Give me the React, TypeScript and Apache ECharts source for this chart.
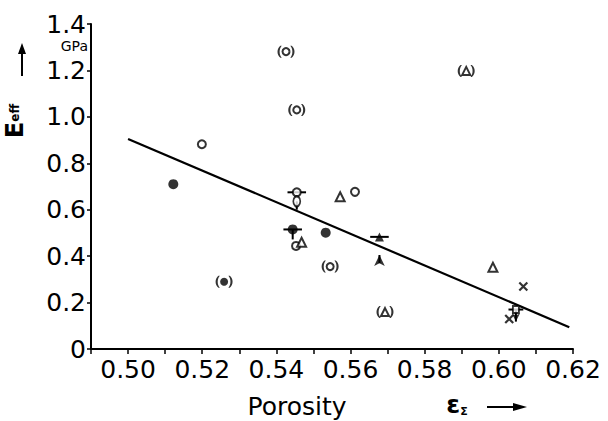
import React, { useEffect, useRef } from "react";
import * as echarts from "echarts";

// ---- data ----
const xMin = 0.49;
const xMax = 0.62;
const yMin = 0;
const yMax = 1.4;
const xLabelStep = 0.02;
const xTickStep = 0.01;
const yTickStep = 0.2;

const openCircles = [
  [0.5199, 0.882],
  [0.5612, 0.677],
  [0.5455, 0.675],
  [0.5453, 0.444],
];
const openOvals = [[0.5455, 0.636]];
const parenOpenCircles = [
  [0.5426, 1.281],
  [0.5455, 1.03],
  [0.5545, 0.355],
];
const filledCircles = [
  [0.5122, 0.71],
  [0.5444, 0.515],
  [0.5533, 0.501],
];
const parenFilledCircles = [[0.5259, 0.29]];
const openTriangles = [
  [0.5468, 0.46],
  [0.5572, 0.656],
  [0.5984, 0.352],
];
const parenOpenTriangles = [
  [0.5912, 1.198],
  [0.5693, 0.159],
];
const filledTriangles = [[0.5678, 0.483]];
const upArrows = [[0.5678, 0.405]];
const crosses = [
  [0.6066, 0.269],
  [0.6028, 0.129],
];
const openSquares = [[0.6046, 0.17]];
const downArrows = [[0.6046, 0.118]];
// horizontal bars: [x, y, halfWidth]
const horizontalBars = [
  [0.5455, 0.675, 0.0025],
  [0.5444, 0.515, 0.0025],
  [0.5678, 0.483, 0.0025],
  [0.6046, 0.17, 0.002],
];
// vertical stems: [x, yTop, yBottom]
const verticalStems = [
  [0.5455, 0.636, 0.6],
  [0.5444, 0.515, 0.472],
  [0.5678, 0.405, 0.37],
  [0.6046, 0.17, 0.118],
];
const fitLine = [
  [0.5, 0.905],
  [0.619, 0.094],
];

const FONT = "DejaVu Sans";

export default function App() {
  const ref = useRef<HTMLDivElement>(null);
  useEffect(() => {
    const chart = echarts.init(ref.current!, null, { renderer: "svg" });

    const segments: number[][] = [];
    horizontalBars.forEach(([x, y, h]) => segments.push([x - h, y, x + h, y]));
    verticalStems.forEach(([x, y0, y1]) => segments.push([x, y0, x, y1]));

    const parenPath =
      "path://M4,0 C0,3 0,9 4,12 L5.5,12 C2.5,9 2.5,3 5.5,0 Z M16,0 C20,3 20,9 16,12 L14.5,12 C17.5,9 17.5,3 14.5,0 Z";
    const open = { color: "#fff", borderColor: "#000", borderWidth: 2 };
    const filled = { color: "#000", borderColor: "#000", borderWidth: 0 };

    const scatter = (data: number[][], symbol: string, size: any, style: any, extra: any = {}) => ({
      type: "scatter",
      data,
      symbol,
      symbolSize: size,
      itemStyle: style,
      z: 5,
      silent: true,
      ...extra,
    });

    const option: any = {
      animation: false,
      backgroundColor: "#fff",
      grid: { left: 91, right: 35, top: 24, bottom: 72 },
      xAxis: {
        type: "value",
        min: xMin,
        max: xMax,
        interval: xTickStep,
        axisLine: { show: true, lineStyle: { color: "#000", width: 2 } },
        axisTick: { show: true, length: 5, lineStyle: { color: "#000", width: 1.5 } },
        splitLine: { show: false },
        axisLabel: {
          color: "#000",
          fontFamily: FONT,
          fontSize: 25,
          margin: 8,
          showMinLabel: true,
          showMaxLabel: true,
          formatter: (v: number) => {
            const k = Math.round((v - 0.5) / xTickStep);
            if (v < 0.4999 || k % Math.round(xLabelStep / xTickStep) !== 0) return "";
            return v.toFixed(2);
          },
        },
      },
      yAxis: {
        type: "value",
        min: yMin,
        max: yMax,
        interval: yTickStep,
        axisLine: { show: true, lineStyle: { color: "#000", width: 2 } },
        axisTick: { show: true, length: 4, lineStyle: { color: "#000", width: 1.5 } },
        splitLine: { show: false },
        axisLabel: {
          color: "#000",
          fontFamily: FONT,
          fontSize: 25,
          margin: 5,
          formatter: (v: number) => (v === 0 ? "0" : v.toFixed(1)),
        },
      },
      graphic: [
        {
          type: "text",
          x: 88,
          y: 46,
          style: {
            text: "GPa",
            fontFamily: FONT,
            fontSize: 14,
            fill: "#000",
            align: "right",
            verticalAlign: "middle",
          },
        },
        {
          type: "text",
          x: 27,
          y: 121,
          rotation: Math.PI / 2,
          style: {
            text: "{e|E}{s|eff}",
            align: "center",
            verticalAlign: "bottom",
            rich: {
              e: { fontFamily: FONT, fontSize: 24, fontWeight: "bold", fill: "#000" },
              s: { fontFamily: FONT, fontSize: 12, fontWeight: "bold", fill: "#000" },
            },
          },
        },
        {
          type: "line",
          shape: { x1: 22, y1: 76, x2: 22, y2: 50 },
          style: { stroke: "#000", lineWidth: 2 },
        },
        {
          type: "polygon",
          shape: { points: [[22, 43], [18, 54], [26, 54]] },
          style: { fill: "#000" },
        },
        {
          type: "text",
          x: 297,
          y: 406,
          style: {
            text: "Porosity",
            fontFamily: FONT,
            fontSize: 25,
            fill: "#000",
            align: "center",
            verticalAlign: "middle",
          },
        },
        {
          type: "text",
          x: 457,
          y: 404,
          style: {
            text: "{e|ε}{s|Σ}",
            align: "center",
            verticalAlign: "middle",
            rich: {
              e: { fontFamily: FONT, fontSize: 25, fontWeight: "bold", fill: "#000" },
              s: { fontFamily: FONT, fontSize: 11, fontWeight: "bold", fill: "#000", verticalAlign: "bottom", padding: [12, 0, 0, 0] },
            },
          },
        },
        {
          type: "line",
          shape: { x1: 487, y1: 407, x2: 515, y2: 407 },
          style: { stroke: "#000", lineWidth: 2 },
        },
        {
          type: "polygon",
          shape: { points: [[527, 407], [513, 403], [513, 411]] },
          style: { fill: "#000" },
        },
      ],
      series: [
        {
          type: "line",
          data: fitLine,
          symbol: "none",
          lineStyle: { color: "#000", width: 2.2 },
          z: 2,
          silent: true,
        },
        {
          type: "custom",
          data: segments,
          z: 3,
          silent: true,
          renderItem: (_p: any, api: any) => {
            const a = api.coord([api.value(0), api.value(1)]);
            const b = api.coord([api.value(2), api.value(3)]);
            return {
              type: "line",
              shape: { x1: a[0], y1: a[1], x2: b[0], y2: b[1] },
              style: { stroke: "#000", lineWidth: 2 },
            };
          },
        },
        scatter(openCircles, "circle", 8, open),
        scatter(openOvals, "circle", [7, 10], open),
        scatter(parenOpenCircles, parenPath, [17, 12], filled),
        scatter(parenOpenCircles, "circle", 7, open, { z: 6 }),
        scatter(filledCircles, "circle", 10, filled),
        scatter(parenFilledCircles, parenPath, [17, 12], filled),
        scatter(parenFilledCircles, "circle", 8, filled, { z: 6 }),
        scatter(openTriangles, "triangle", 9, open),
        scatter(parenOpenTriangles, parenPath, [17, 12], filled),
        scatter(parenOpenTriangles, "triangle", 8, open, { z: 6 }),
        scatter(filledTriangles, "triangle", 9, filled, { z: 6 }),
        scatter(upArrows, "arrow", [8, 11], filled, { z: 6 }),
        scatter(crosses, "path://M0,0L10,10M10,0L0,10", 8, { color: "none", borderColor: "#000", borderWidth: 2.2 }),
        scatter(openSquares, "rect", [6, 7], open, { z: 6 }),
        scatter(downArrows, "arrow", [6, 8], filled, { z: 6, symbolRotate: 180 }),
      ],
    };
    chart.setOption(option);
    return () => chart.dispose();
  }, []);
  return (
    <div
      ref={ref}
      style={{ position: "absolute", left: 0, top: 0, width: 608, height: 421, background: "#fff" }}
    />
  );
}
